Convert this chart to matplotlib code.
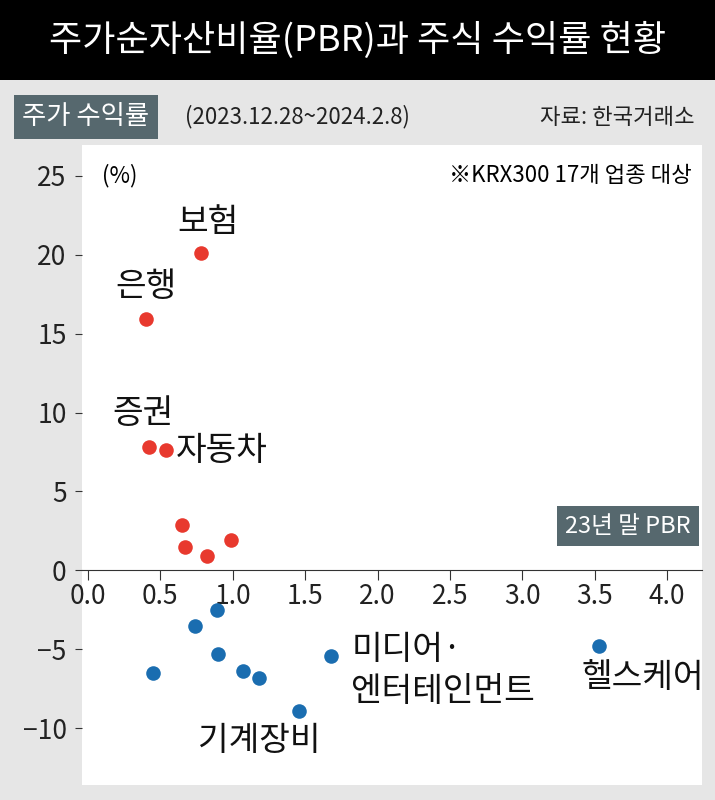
import matplotlib
matplotlib.use("Agg")
import matplotlib.pyplot as plt
from matplotlib.patches import Rectangle

plt.rcParams['font.family'] = ['Noto Sans CJK KR', 'DejaVu Sans']

# PBR (x) vs stock return % (y)
red_pbr = [0.78, 0.40, 0.42, 0.54, 0.65, 0.67, 0.82, 0.99]
red_ret = [20.1, 15.9, 7.8, 7.6, 2.9, 1.5, 0.9, 1.9]
blue_pbr = [0.89, 0.74, 0.90, 1.07, 1.18, 0.45, 1.46, 1.68, 3.53]
blue_ret = [-2.5, -3.5, -5.3, -6.4, -6.8, -6.5, -8.9, -5.4, -4.8]

x_ticks = [0.0, 0.5, 1.0, 1.5, 2.0, 2.5, 3.0, 3.5, 4.0]
y_ticks = [-10, -5, 0, 5, 10, 15, 20, 25]

W, H = 715, 800
fig = plt.figure(figsize=(W / 100, H / 100), dpi=100)
fig.patch.set_facecolor('#e6e6e6')

# title bar
fig.add_artist(Rectangle((0, 1 - 80 / H), 1, 80 / H, transform=fig.transFigure,
                         facecolor='black', edgecolor='none'))
fig.text(0.5, 1 - 40 / H, '주가순자산비율(PBR)과 주식 수익률 현황', color='white',
         fontsize=26, ha='center', va='center', fontweight='medium')

# subtitle row
fig.text(22 / W, 1 - 117 / H, '주가 수익률', color='white', fontsize=19,
         ha='left', va='center',
         bbox=dict(facecolor='#56686e', edgecolor='none', pad=6))
fig.text(185 / W, 1 - 117 / H, '(2023.12.28~2024.2.8)', color='#222222',
         fontsize=16, ha='left', va='center')
fig.text(695 / W, 1 - 117 / H, '자료: 한국거래소', color='#222222',
         fontsize=16, ha='right', va='center')

ax = fig.add_axes([82 / W, 1 - 785 / H, (702 - 82) / W, (785 - 145) / H])
ax.set_facecolor('white')
ax.scatter(red_pbr, red_ret, s=110, color='#e8392e', zorder=3, linewidths=0)
ax.scatter(blue_pbr, blue_ret, s=110, color='#1a6db0', zorder=3, linewidths=0)

ax.set_xlim(-0.04, 4.24)
ax.set_ylim(-13.6, 26.95)
for s in ['top', 'right', 'left']:
    ax.spines[s].set_visible(False)
ax.spines['bottom'].set_position(('data', 0))
ax.spines['bottom'].set_color('#333333')
ax.set_xticks(x_ticks)
ax.set_xticklabels([f'{v:.1f}' for v in x_ticks])
ax.set_yticks(y_ticks)
ax.set_yticklabels(['\u221210', '\u22125', '0', '5', '10', '15', '20', '25'])
ax.tick_params(axis='x', labelsize=19, length=7, color='#333333', pad=2,
               labelcolor='#222222')
ax.tick_params(axis='y', labelsize=19, length=5, color='#333333', pad=6,
               labelcolor='#222222')

ax.text(0.10, 25, '(%)', fontsize=16, va='center', ha='left')
ax.text(4.17, 25, '※KRX300 17개 업종 대상', fontsize=16, va='center', ha='right')

lab = dict(fontsize=24, color='#111111')
ax.text(0.62, 20.9, '보험', ha='left', va='bottom', **lab)
ax.text(0.40, 16.9, '은행', ha='center', va='bottom', **lab)
ax.text(0.38, 8.8, '증권', ha='center', va='bottom', **lab)
ax.text(0.61, 7.6, '자동차', ha='left', va='center', **lab)
ax.text(1.82, -5.0, '미디어·', ha='left', va='center', **lab)
ax.text(1.82, -7.7, '엔터테인먼트', ha='left', va='center', **lab)
ax.text(0.76, -9.7, '기계장비', ha='left', va='top', **lab)
ax.text(3.83, -5.7, '헬스케어', ha='center', va='top', **lab)

ax.text(4.16, 2.8, '23년 말 PBR', color='white', fontsize=17, ha='right',
        va='center', bbox=dict(facecolor='#56686e', edgecolor='none', pad=6))

fig.savefig('out.png', dpi=100, facecolor=fig.get_facecolor())
